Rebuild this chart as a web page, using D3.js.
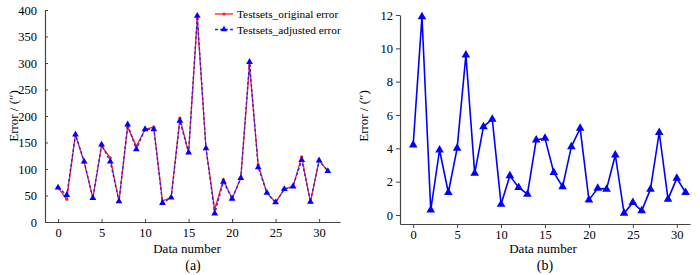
<!DOCTYPE html>
<html>
<head>
<meta charset="utf-8">
<script src="https://cdn.jsdelivr.net/npm/d3@7"></script>
<style>
  body { margin: 0; background: #fff; }
</style>
</head>
<body>
<svg id="chart" width="700" height="275"></svg>
<script>
// data
var dataNumber = d3.range(32);
var originalError = [65, 43, 165, 113, 45, 143, 121, 39, 179, 143, 175, 179, 40, 46, 196, 131,
                     383, 139, 24, 80, 44, 83, 295, 108, 55, 37, 62, 67, 123, 38, 116, 96];
var adjustedError = [65, 51, 165, 114, 45, 146, 114, 39, 184, 137, 175, 175, 36, 46, 191, 131,
                     389, 139, 16, 76, 44, 83, 302, 103, 55, 37, 62, 67, 117, 38, 116, 96];
var diffError = [4.2, 11.9, 0.3, 3.9, 1.35, 4.0, 9.6, 2.5, 5.3, 5.75, 0.65, 2.35, 1.65, 1.25, 4.5, 4.6,
                 2.55, 1.7, 4.1, 5.2, 0.9, 1.6, 1.55, 3.6, 0.1, 0.75, 0.25, 1.55, 4.95, 0.95, 2.2, 1.35];
var legendNames = ["Testsets_original error", "Testsets_adjusted error"];
var yTicksA = [0, 50, 100, 150, 200, 250, 300, 350, 400];
var yTicksB = [0, 2, 4, 6, 8, 10, 12];
var xTicks = [0, 5, 10, 15, 20, 25, 30];

var FONT = "'Liberation Serif', 'Times New Roman', serif";

var svg = d3.select("#chart").attr("font-family", FONT);

function styleAxis(a){
  a.attr("font-family", FONT).attr("font-size", 12.5);
  a.select(".domain").attr("stroke", "#444").attr("stroke-width", 1.2);
  a.selectAll(".tick line").attr("stroke", "#444");
  a.selectAll("text").attr("fill", "#000");
}

// ---------- panel (a) ----------
var xa = d3.scaleLinear().domain([-1.5, 32.4]).range([45, 340]);
var ya = d3.scaleLinear().domain([0, 400]).range([222, 10]);

var ga = svg.append("g");

var axA = ga.append("g").attr("transform", "translate(0,222)")
    .call(d3.axisBottom(xa).tickValues(xTicks).tickSizeInner(-3).tickSizeOuter(0).tickPadding(6));
var ayA = ga.append("g").attr("transform", "translate(45,0)")
    .call(d3.axisLeft(ya).tickValues(yTicksA).tickSizeInner(-3).tickSizeOuter(0).tickPadding(8));
styleAxis(axA);
styleAxis(ayA);

var lineA = function(vals){
  return d3.line().x(function(d, i){ return xa(dataNumber[i]); })
                  .y(function(d){ return ya(d); })(vals);
};

ga.append("path").attr("d", lineA(originalError))
  .attr("fill", "none").attr("stroke", "#ff2020").attr("stroke-width", 1.3);
ga.selectAll(".dotA").data(originalError).enter().append("circle")
  .attr("cx", function(d, i){ return xa(dataNumber[i]); })
  .attr("cy", function(d){ return ya(d); })
  .attr("r", 1.6).attr("fill", "#ff2020");

ga.append("path").attr("d", lineA(adjustedError))
  .attr("fill", "none").attr("stroke", "#2020ff").attr("stroke-width", 1.3)
  .attr("stroke-dasharray", "3,2");
ga.selectAll(".triA").data(adjustedError).enter().append("path")
  .attr("d", d3.symbol().type(d3.symbolTriangle).size(20))
  .attr("transform", function(d, i){ return "translate(" + xa(dataNumber[i]) + "," + ya(d) + ")"; })
  .attr("fill", "#0000ff");

// legend
var leg = ga.append("g");
legendNames.forEach(function(name, i){
  var y = 14 + i * 15.5;
  var g = leg.append("g");
  if (i === 0) {
    g.append("line").attr("x1", 215).attr("x2", 233).attr("y1", y).attr("y2", y)
      .attr("stroke", "#ff2020").attr("stroke-width", 1.3);
    g.append("circle").attr("cx", 224).attr("cy", y).attr("r", 1.6).attr("fill", "#ff2020");
  } else {
    g.append("line").attr("x1", 215).attr("x2", 233).attr("y1", y).attr("y2", y)
      .attr("stroke", "#2020ff").attr("stroke-width", 1.3).attr("stroke-dasharray", "3,2");
    g.append("path").attr("d", d3.symbol().type(d3.symbolTriangle).size(18))
      .attr("transform", "translate(224," + y + ")").attr("fill", "#0000ff");
  }
  g.append("text").attr("x", 237).attr("y", y + 4).attr("font-size", 11.3).text(name);
});

ga.append("text").attr("x", 187).attr("y", 253).attr("text-anchor", "middle")
  .attr("font-size", 13).text("Data number");
ga.append("text").attr("x", 193).attr("y", 270).attr("text-anchor", "middle")
  .attr("font-size", 14).text("(a)");
ga.append("text").attr("transform", "translate(18,116) rotate(-90)").attr("text-anchor", "middle")
  .attr("font-size", 13).text("Error / (″)");

// ---------- panel (b) ----------
var xb = d3.scaleLinear().domain([-1.5, 31.5]).range([400, 690]);
var yb = d3.scaleLinear().domain([-0.54, 12]).range([224, 15]);

var gb = svg.append("g");
var axB = gb.append("g").attr("transform", "translate(0,224)")
    .call(d3.axisBottom(xb).tickValues(xTicks).tickSizeInner(4).tickSizeOuter(0).tickPadding(2));
var ayB = gb.append("g").attr("transform", "translate(400,0)")
    .call(d3.axisLeft(yb).tickValues(yTicksB).tickSizeInner(4).tickSizeOuter(0).tickPadding(3));
styleAxis(axB);
styleAxis(ayB);

gb.append("path")
  .attr("d", d3.line().x(function(d, i){ return xb(dataNumber[i]); }).y(function(d){ return yb(d); })(diffError))
  .attr("fill", "none").attr("stroke", "#0000ff").attr("stroke-width", 1.6);
gb.selectAll(".triB").data(diffError).enter().append("path")
  .attr("d", d3.symbol().type(d3.symbolTriangle).size(32))
  .attr("transform", function(d, i){ return "translate(" + xb(dataNumber[i]) + "," + yb(d) + ")"; })
  .attr("fill", "#0000ff");

gb.append("text").attr("x", 543).attr("y", 253).attr("text-anchor", "middle")
  .attr("font-size", 13).text("Data number");
gb.append("text").attr("x", 545).attr("y", 270).attr("text-anchor", "middle")
  .attr("font-size", 14).text("(b)");
gb.append("text").attr("transform", "translate(368,116) rotate(-90)").attr("text-anchor", "middle")
  .attr("font-size", 13).text("Error / (″)");
</script>
</body>
</html>
